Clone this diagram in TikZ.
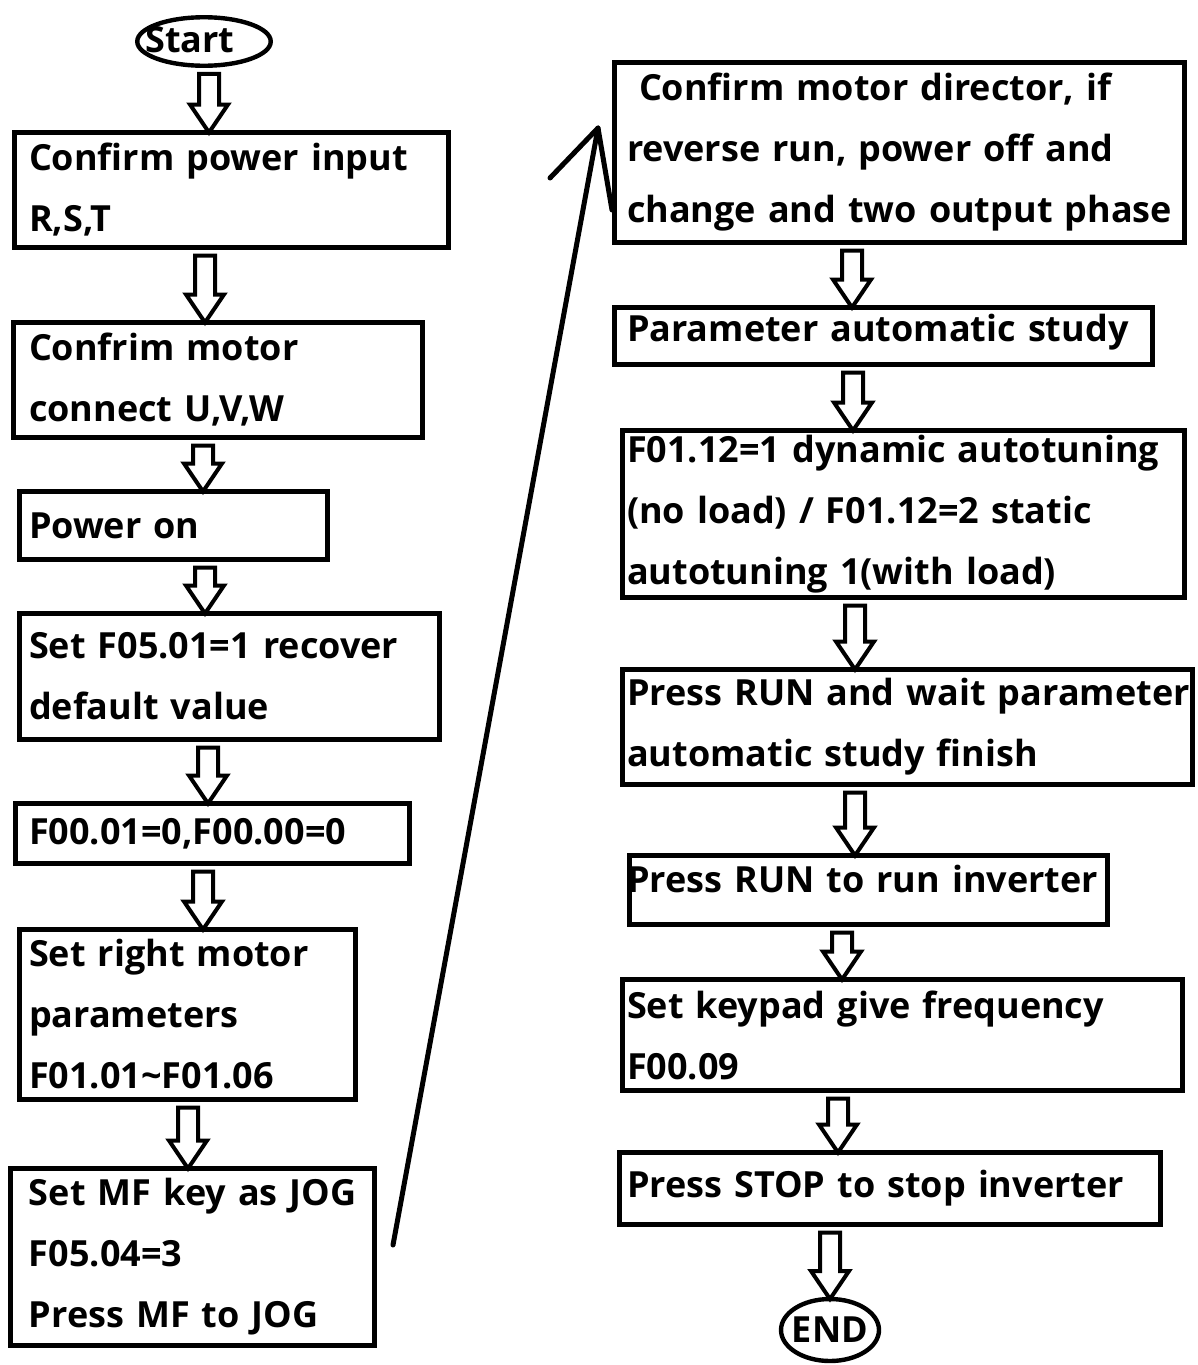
\documentclass[tikz,border=0pt]{standalone}
\usepackage{fontspec}
\newfontfamily\flowfont{Open Sans}
\usetikzlibrary{calc,shapes.geometric}

\begin{document}
\begin{tikzpicture}[
  x=0.5pt, y=-0.5pt,
  box/.style={draw, line width=2.5pt, outer sep=0pt, inner xsep=0pt, inner ysep=2pt,
    anchor=north west, align=left, font=\flowfont\bfseries\fontsize{18}{30.5}\selectfont},
  lpad/.style={execute at begin node={\leftskip=#1}},
  term/.style={draw, ellipse, line width=2.2pt, inner sep=0pt, outer sep=0pt,
    font=\flowfont\bfseries\fontsize{18}{30.5}\selectfont},
  hollow/.style={draw, line width=2pt, line join=miter},
  jogline/.style={line width=2.5pt, line cap=round, line join=round}
]
\path[use as bounding box, fill=white] (0,0) rectangle (1198,1365);

% left column
\node[term, minimum width=66.75pt, minimum height=24.25pt, text height=10.5pt, text depth=0pt]
  (start) at (204,41.5) {\makebox[0pt]{Start\hspace{14pt}}};
\node[box, text width=217pt, minimum height=57.5pt, lpad=7.25pt] (power) at (14.5,132.5)
  {Confirm power input\\R,S,T};
\node[box, text width=204.5pt, minimum height=57.5pt, lpad=7.75pt] (motor) at (13.5,322.5)
  {Confrim motor\\connect U,V,W};
\node[box, text width=154pt, minimum height=34pt, lpad=4.75pt] (poweron) at (19.5,491.5)
  {Power on};
\node[box, text width=210pt, minimum height=63pt, lpad=4.75pt] (recover) at (19.5,613.5)
  {Set F05.01=1 recover\\default value};
\node[box, text width=197pt, minimum height=30pt, lpad=6.75pt] (zeroset) at (15.5,803.5)
  {F00.01=0,F00.00=0};
\node[box, text width=168pt, minimum height=85pt, lpad=4.75pt] (motorpar) at (19.5,929.5)
  {Set right motor\\parameters\\F01.01\textasciitilde{}F01.06};
\node[box, text width=182pt, minimum height=88.5pt, lpad=9.25pt] (setmf) at (10.5,1168.5)
  {Set MF key as JOG\\F05.04=3\\Press MF to JOG};

% right column
\node[box, text width=285pt, minimum height=90pt, lpad=6.25pt] (direction) at (614.5,62.5)
  {\hspace*{6pt}Confirm motor director, if\\reverse run, power off and\\change and two output phase};
\node[box, text width=269pt, minimum height=28.5pt, lpad=6.25pt, text depth=8pt] (study) at (614.5,307.5)
  {Parameter automatic study};
\node[box, text width=281pt, minimum height=83.5pt, lpad=2.25pt] (autotune) at (622.5,430.5)
  {F01.12=1 dynamic autotuning\\(no load) / F01.12=2 static\\autotuning 1(with load)};
\node[box, text width=285pt, minimum height=57.5pt, lpad=2.25pt] (runwait) at (622.5,669.5)
  {Press RUN and wait parameter\\automatic study finish};
\node[box, text width=239pt, minimum height=34.5pt, lpad=-1.25pt, text depth=11pt] (runinv) at (629.5,855.5)
  {Press RUN to run inverter};
\node[box, text width=280pt, minimum height=55.5pt, lpad=2.25pt] (keypad) at (622.5,979.5)
  {Set keypad give frequency\\F00.09};
\node[box, text width=270.5pt, minimum height=36pt, lpad=3.75pt] (stopinv) at (619.5,1152.5)
  {Press STOP to stop inverter};
\node[term, minimum width=49pt, minimum height=31pt, text height=12.5pt, text depth=0pt]
  (finish) at (830,1330) {\makebox[0pt]{END}};

% hollow block arrows
\foreach \a/\b/\x in {start/power/209, power/motor/205, motor/poweron/203,
    poweron/recover/205, recover/zeroset/208, zeroset/motorpar/203, motorpar/setmf/188,
    direction/study/852, study/autotune/853, autotune/runwait/855, runwait/runinv/855,
    runinv/keypad/842, keypad/stopinv/838, stopinv/finish/830}
  \draw[hollow] ($(\x,0 |- \a.south)+(-10,8)$) -- ($(\x,0 |- \b.north)+(-10,-28)$)
    -- ++(-9,0) -- (\x,0 |- \b.north) -- ++(19,-28) -- ++(-9,0)
    -- ($(\x,0 |- \a.south)+(10,8)$) -- cycle;

% long arrow to the right column
\coordinate (jogtail) at ($(setmf.east)+(18.5,-12)$);
\coordinate (jogtip) at ($(direction.west)+(-16.5,-24.5)$);
\draw[jogline] (jogtail) -- (jogtip);
\draw[jogline] ($(jogtip)+(-48,50)$) -- (jogtip) -- ($(jogtip)+(14,82)$);
\end{tikzpicture}
\end{document}
